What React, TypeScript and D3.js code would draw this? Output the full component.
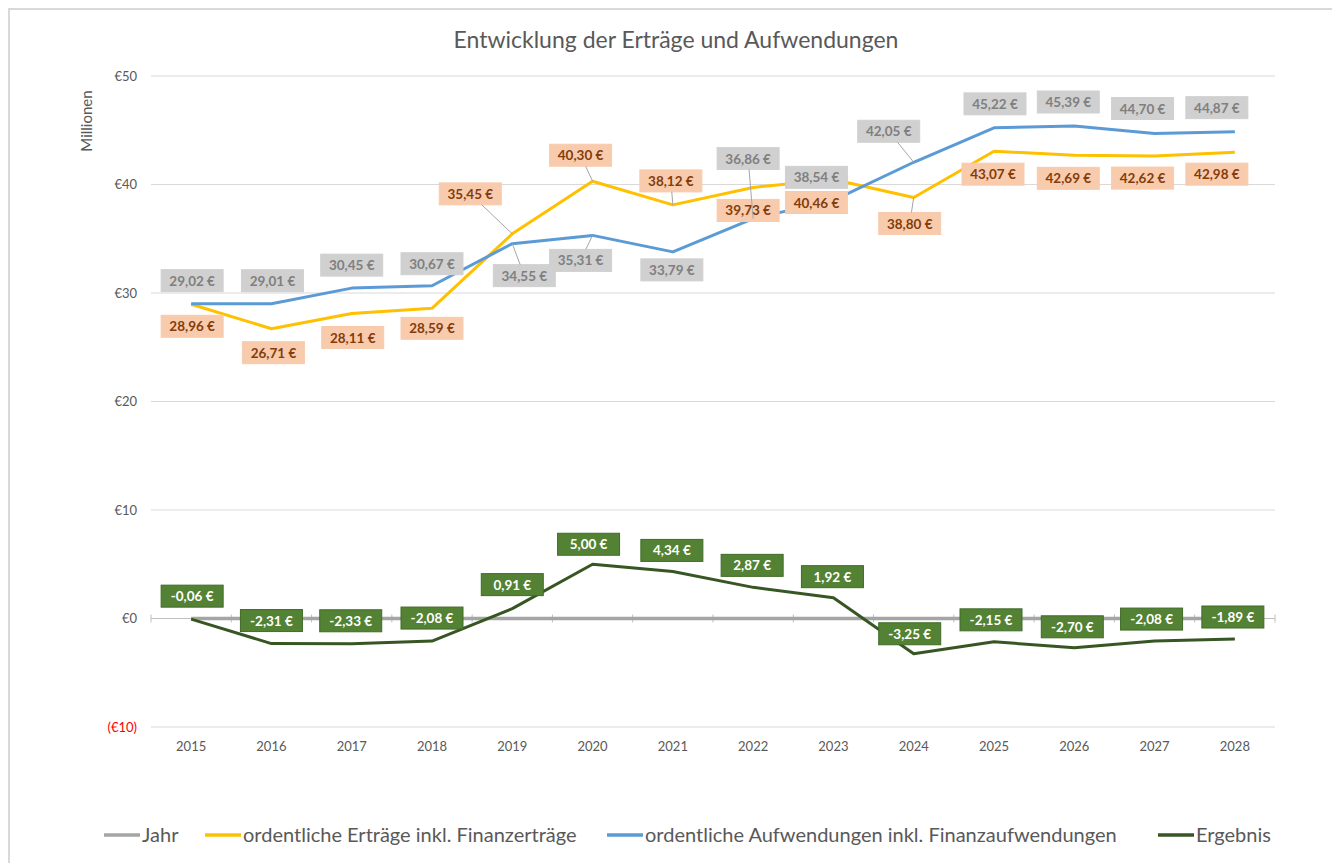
import React from "react";
import * as d3 from "d3";

const years = ["2015","2016","2017","2018","2019","2020","2021","2022","2023","2024","2025","2026","2027","2028"];
const jahr = [0,0,0,0,0,0,0,0,0,0,0,0,0,0];
const ertraege = [28.96,26.71,28.11,28.59,35.45,40.30,38.12,39.73,40.46,38.80,43.07,42.69,42.62,42.98];
const aufwendungen = [29.02,29.01,30.45,30.67,34.55,35.31,33.79,36.86,38.54,42.05,45.22,45.39,44.70,44.87];
const ergebnis = [-0.06,-2.31,-2.33,-2.08,0.91,5.00,4.34,2.87,1.92,-3.25,-2.15,-2.70,-2.08,-1.89];
const yTicks = [50,40,30,20,10,0,-10];

// label offsets (px) relative to their points, and leader-line flags
const aufOff = [[1,-23],[1,-23],[0,-23],[0,-22],[12,32],[-12,25],[-1,18],[-5,-60],[-17,-23],[-25,-31],[1,-24],[-6,-24],[-12,-25],[-18,-24]];
const aufLead = [0,0,0,0,1,1,0,1,0,1,0,0,0,0];
const ertOff = [[1,22],[2,24],[1,24],[0,20],[-42,-40],[-12,-26],[-2,-24],[-5,23],[-17,23],[-4,26],[-1,23],[-6,23],[-12,22],[-18,22]];
const ertLead = [0,0,0,0,1,1,1,0,0,1,0,0,0,0];
const ergOff = [[1,-23],[0,-23],[-1,-23],[0,-23],[0,-24],[-4,-20],[-1,-21],[-1,-22],[-1,-21],[-4,-20],[-3,-22],[-2,-21],[-3,-22],[-2,-22]];

const fmt = (v: number) => v.toFixed(2).replace(".", ",") + " €";
const FONT = "Lato, 'Open Sans', sans-serif";

export default function App() {
  const x = d3.scaleBand<string>().domain(years).range([151, 1275]);
  const cx = (i: number) => (x(years[i]) as number) + x.bandwidth() / 2;
  const y = d3.scaleLinear().domain([-10, 50]).range([727, 76]);
  const line = d3.line<number>().x((_, i) => cx(i)).y((d) => y(d));

  const W = 62, H = 22;
  const leaders: React.ReactNode[] = [];
  const renderLabels = (key: string, vals: number[], off: number[][], lead: number[] | null, bg: string, fg: string, stroke: string) =>
    vals.map((v, i) => {
      const px = cx(i), py = y(v);
      const lx = px + off[i][0], ly = py + off[i][1];
      if (lead && lead[i]) {
        const dx = px - lx, dy = py - ly;
        const t = Math.min(Math.abs((W / 2) / (dx || 1e-6)), Math.abs((H / 2) / (dy || 1e-6)));
        const sx = lx + dx * Math.min(t, 1), sy = ly + dy * Math.min(t, 1);
        leaders.push(<line key={key + i} x1={sx} y1={sy} x2={px} y2={py} stroke="#a6a6a6" strokeWidth={1} />);
      }
      return (
        <g key={key + i}>
          <rect x={lx - W / 2} y={ly - H / 2} width={W} height={H} fill={bg} stroke={stroke} strokeWidth={1} />
          <text x={lx} y={ly + 5} textAnchor="middle" fontSize={13.5} fontWeight={700} fill={fg} fontFamily={FONT}>{fmt(v)}</text>
        </g>
      );
    });

  const legend = [
    { x: 104, color: "#a5a5a5", label: "Jahr" },
    { x: 205, color: "#ffc000", label: "ordentliche Erträge inkl. Finanzerträge" },
    { x: 607, color: "#5b9bd5", label: "ordentliche Aufwendungen inkl. Finanzaufwendungen" },
    { x: 1158, color: "#375623", label: "Ergebnis" },
  ];

  const aufLabels = renderLabels("a", aufwendungen, aufOff, aufLead, "#d0d0d0", "#7f7f7f", "#d0d0d0");
  const ertLabels = renderLabels("e", ertraege, ertOff, ertLead, "#f8cbad", "#843c0c", "#f8cbad");
  const ergLabels = renderLabels("g", ergebnis, ergOff, null, "#548235", "#ffffff", "#3f6b27");

  return (
    <svg width={1332} height={863} style={{ position: "absolute", left: 0, top: 0 }} fontFamily={FONT}>
      <rect x={0} y={0} width={1332} height={863} fill="#fff" />
      <rect x={9} y={9} width={1340} height={870} fill="#fff" stroke="#d9d9d9" strokeWidth={2} />
      <text x={676} y={48} textAnchor="middle" fontSize={23} fill="#595959">Entwicklung der Erträge und Aufwendungen</text>
      <text transform="translate(92,121) rotate(-90)" textAnchor="middle" fontSize={15} fill="#595959">Millionen</text>
      {yTicks.map((t) => (
        <g key={t}>
          {t !== 0 && <line x1={151} x2={1275} y1={y(t)} y2={y(t)} stroke="#d9d9d9" strokeWidth={1} />}
          <text x={137} y={y(t) + 4.5} textAnchor="end" fontSize={13} fill={t < 0 ? "#ff0000" : "#595959"}>
            {t < 0 ? `(€${Math.abs(t)})` : `€${t}`}
          </text>
        </g>
      ))}
      <line x1={151} x2={1275} y1={y(0)} y2={y(0)} stroke="#bfbfbf" strokeWidth={1} />
      {d3.range(years.length + 1).map((k) => {
        const tx = 151 + k * x.step();
        return <line key={k} x1={tx} x2={tx} y1={y(0) - 4} y2={y(0) + 4} stroke="#bfbfbf" strokeWidth={1} />;
      })}
      {years.map((yr, i) => (
        <text key={yr} x={cx(i)} y={751} textAnchor="middle" fontSize={13} fill="#595959">{yr}</text>
      ))}
      <path d={line(jahr) || ""} fill="none" stroke="#a5a5a5" strokeWidth={3.5} />
      <path d={line(ertraege) || ""} fill="none" stroke="#ffc000" strokeWidth={3} strokeLinejoin="round" />
      <path d={line(aufwendungen) || ""} fill="none" stroke="#5b9bd5" strokeWidth={3} strokeLinejoin="round" />
      <path d={line(ergebnis) || ""} fill="none" stroke="#375623" strokeWidth={3} strokeLinejoin="round" />
      {aufLabels}
      {ertLabels}
      {ergLabels}
      {leaders}
      {legend.map((l) => (
        <g key={l.label}>
          <line x1={l.x} x2={l.x + 36} y1={835} y2={835} stroke={l.color} strokeWidth={3.5} />
          <text x={l.x + 38} y={842} fontSize={20} fill="#595959">{l.label}</text>
        </g>
      ))}
    </svg>
  );
}
